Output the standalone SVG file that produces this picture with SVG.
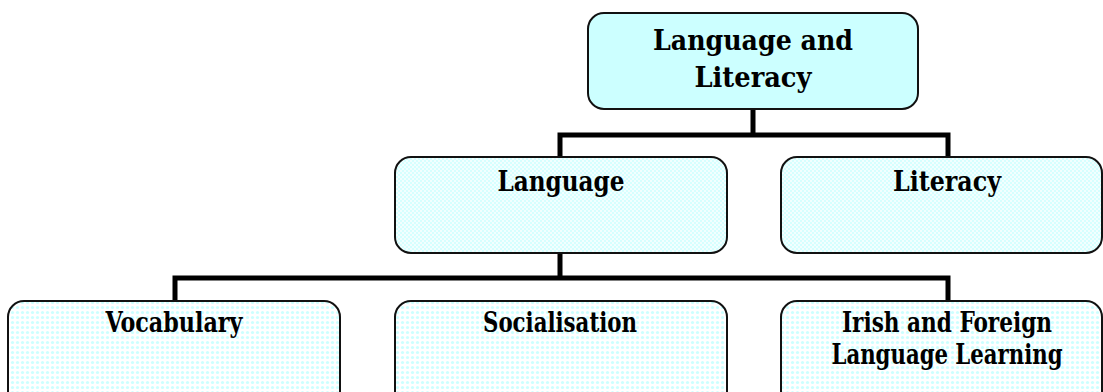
<svg xmlns="http://www.w3.org/2000/svg" width="1103" height="392" viewBox="0 0 1103 392">
  <style>
    .box { stroke: #111; stroke-width: 2; }
    .solid { fill: #ccffff; }
    .check { fill: url(#checker); }
    .dots { fill: url(#dotted); }
    .wire { fill: none; stroke: #000; stroke-width: 5; stroke-linejoin: miter; }
    .label { font-family: "DejaVu Serif Condensed", "DejaVu Serif", "Liberation Serif", serif; font-weight: bold; font-size: 27px; fill: #000; text-anchor: middle; }
  </style>
  <defs>
    <!-- fine checker used for the middle row -->
    <pattern id="checker" width="4" height="4" patternUnits="userSpaceOnUse">
      <rect width="4" height="4" fill="#f2ffff"/>
      <rect width="2" height="2" fill="#d6ffff"/>
      <rect x="2" y="2" width="2" height="2" fill="#d6ffff"/>
    </pattern>
    <!-- dot screen used for the bottom row -->
    <pattern id="dotted" width="5" height="5" patternUnits="userSpaceOnUse">
      <rect width="5" height="5" fill="#ffffff"/>
      <circle cx="2.5" cy="2.5" r="1.6" fill="#ccffff"/>
    </pattern>
  </defs>

  <g id="connectors">
    <path class="wire" d="M753 109 V135 M560 157 V135 H948 V157"/>
    <path class="wire" d="M560 253 V278 M175 301 V278 H948 V301"/>
  </g>

  <g id="language-and-literacy">
    <rect class="box solid" x="588" y="13" width="330" height="96" rx="16"/>
    <text class="label" x="753" y="50" textLength="200" lengthAdjust="spacingAndGlyphs">Language and</text>
    <text class="label" x="753" y="87" textLength="117" lengthAdjust="spacingAndGlyphs">Literacy</text>
  </g>

  <g id="language">
    <rect class="box check" x="395" y="157" width="332" height="96" rx="16"/>
    <text class="label" x="561" y="191" textLength="127" lengthAdjust="spacingAndGlyphs">Language</text>
  </g>

  <g id="literacy">
    <rect class="box check" x="781" y="157" width="321" height="96" rx="16"/>
    <text class="label" x="947" y="191" textLength="108" lengthAdjust="spacingAndGlyphs">Literacy</text>
  </g>

  <g id="vocabulary">
    <rect class="box dots" x="8" y="301" width="332" height="110" rx="16"/>
    <text class="label" x="174" y="332" textLength="137" lengthAdjust="spacingAndGlyphs">Vocabulary</text>
  </g>

  <g id="socialisation">
    <rect class="box dots" x="395" y="301" width="332" height="110" rx="16"/>
    <text class="label" x="560" y="332" textLength="154" lengthAdjust="spacingAndGlyphs">Socialisation</text>
  </g>

  <g id="irish-and-foreign-language-learning">
    <rect class="box dots" x="781" y="301" width="321" height="110" rx="16"/>
    <text class="label" x="947" y="332" textLength="210" lengthAdjust="spacingAndGlyphs">Irish and Foreign</text>
    <text class="label" x="947" y="364" textLength="231" lengthAdjust="spacingAndGlyphs">Language Learning</text>
  </g>
</svg>
